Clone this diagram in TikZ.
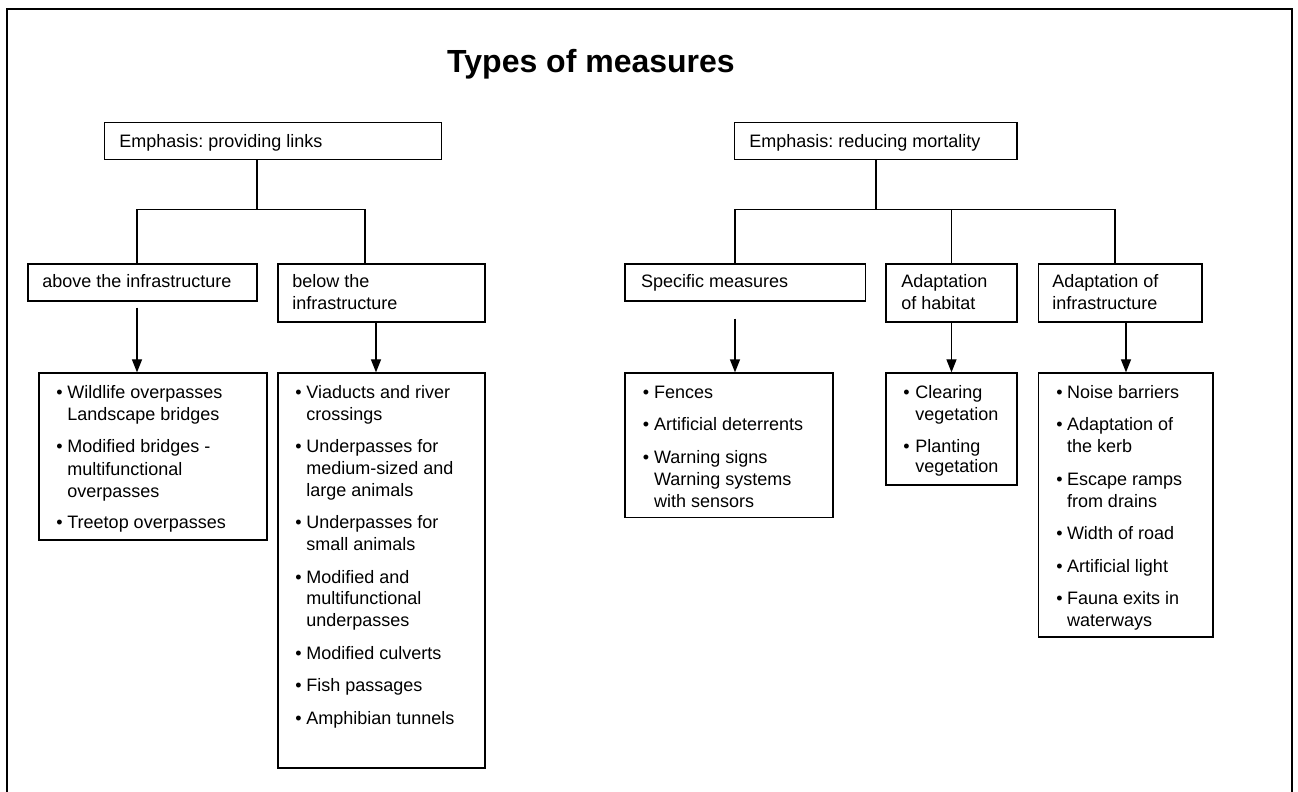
\documentclass[tikz,border=0pt]{standalone}
\usepackage{fontspec}
\setmainfont{Liberation Sans}
\usetikzlibrary{fit,calc,arrows.meta}
\newcommand\blist[4]{%
  \foreach \ly/\lt/\lb [count=\i] in {#4} {%
    \node[txt] (#1t\i) at (#3,\ly) {\lt};
    \ifnum\lb=1 \node[txt] (#1b\i) at (#2,\ly) {•};\fi
  }}
\begin{document}
\frenchspacing
\begin{tikzpicture}[x=0.5pt,y=-0.5pt,
  box/.style={draw=black,line width=0.6pt,inner sep=0pt},
  txt/.style={anchor=base west,inner sep=0pt,font=\fontsize{9}{11}\selectfont},
  conn/.style={line width=0.6pt},
  arr/.style={line width=0.6pt,-{Triangle[width=5pt,length=6.5pt]}}]
\useasboundingbox (0,0) rectangle (1298,792);
\draw[line width=0.9pt] (7,795) -- (7,9) -- (1292,9) -- (1292,795);
\node[anchor=base,inner sep=0pt,font=\fontsize{16}{19}\selectfont\bfseries] (title) at (591,73) {Types of measures};
% boxes
\node[box,fit={(104.5,122.7) (441.5,159.3)}] (A) {};
\node[box,fit={(28,264) (257,301)}] (B) {};
\node[box,fit={(278,264) (485,322)}] (C) {};
\node[box,fit={(39,373) (267,540)}] (D) {};
\node[box,fit={(278,373) (485,768)}] (E) {};
\node[box,fit={(734.6,122.7) (1017,159.3)}] (F) {};
\node[box,fit={(625,264) (865.6,301)}] (G) {};
\node[box,fit={(886,264) (1017,322)}] (H) {};
\node[box,fit={(1038.6,264) (1202,322)}] (I) {};
\node[box,fit={(625,373) (833,517.7)}] (J) {};
\node[box,fit={(886,373) (1017,485)}] (K) {};
\node[box,fit={(1038.6,373) (1213,637)}] (L) {};
% header texts
\node[txt] (At) at (119,148) {Emphasis: providing links};
\node[txt] (Bt) at (42,288) {above the infrastructure};
\node[txt] (Ct1) at (292,288) {below the};
\node[txt] (Ct2) at (292,310) {infrastructure};
\node[txt] (Ft) at (749,148) {Emphasis: reducing mortality};
\node[txt] (Gt) at (640.8,288) {Specific measures};
\node[txt] (Ht1) at (901,288) {Adaptation};
\node[txt] (Ht2) at (901,310) {of habitat};
\node[txt] (It1) at (1052,288) {Adaptation of};
\node[txt] (It2) at (1052,310) {infrastructure};
% lists
\blist{d}{56}{67}{398/Wildlife overpasses/1, 420/Landscape bridges/0, 452/Modified bridges -/1, 475/multifunctional/0, 497/overpasses/0, 528/Treetop overpasses/1}
\blist{e}{295}{306}{398/Viaducts and river/1, 420/crossings/0, 452/Underpasses for/1, 474/medium-sized and/0, 496/large animals/0, 528/Underpasses for/1, 550/small animals/0, 583/Modified and/1, 604/multifunctional/0, 626/underpasses/0, 659/Modified culverts/1, 691/Fish passages/1, 724/Amphibian tunnels/1}
\blist{j}{642.5}{653.7}{398/Fences/1, 430/Artificial deterrents/1, 463/Warning signs/1, 485/Warning systems/0, 507/with sensors/0}
\blist{k}{903}{915}{398/Clearing/1, 420/vegetation/0, 452/Planting/1, 473/vegetation/0}
\blist{l}{1056}{1066.6}{398/Noise barriers/1, 430/Adaptation of/1, 452/the kerb/0, 485/Escape ramps/1, 507/from drains/0, 539/Width of road/1, 572/Artificial light/1, 604/Fauna exits in/1, 626/waterways/0}
% left tree
\coordinate (jA) at (257,210);
\coordinate (bx) at (137,0);
\coordinate (cx) at (365,0);
\coordinate (cax) at (376,0);
\draw[conn] (A.south -| jA) -- (jA);
\draw[conn] (B.north -| bx) -- ++(0,-54) -- ($(C.north -| cx)+(0,-54)$) -- (C.north -| cx);
\draw[arr] ($(B.south -| bx)+(0,6)$) -- (D.north -| bx);
\draw[arr] (C.south -| cax) -- (E.north -| cax);
% right tree
\coordinate (jF) at (876,210);
\coordinate (gx) at (735,0);
\coordinate (ix) at (1115,0);
\coordinate (iax) at (1126,0);
\draw[conn] (F.south -| jF) -- (jF);
\draw[conn] (G.north -| gx) -- ++(0,-54) -- ($(I.north -| ix)+(0,-54)$) -- (I.north -| ix);
\draw[conn] (H.north) -- ++(0,-54);
\draw[arr] ($(G.south -| gx)+(0,17)$) -- (J.north -| gx);
\draw[arr] (H.south) -- (K.north);
\draw[arr] (I.south -| iax) -- (L.north -| iax);
\end{tikzpicture}
\end{document}
